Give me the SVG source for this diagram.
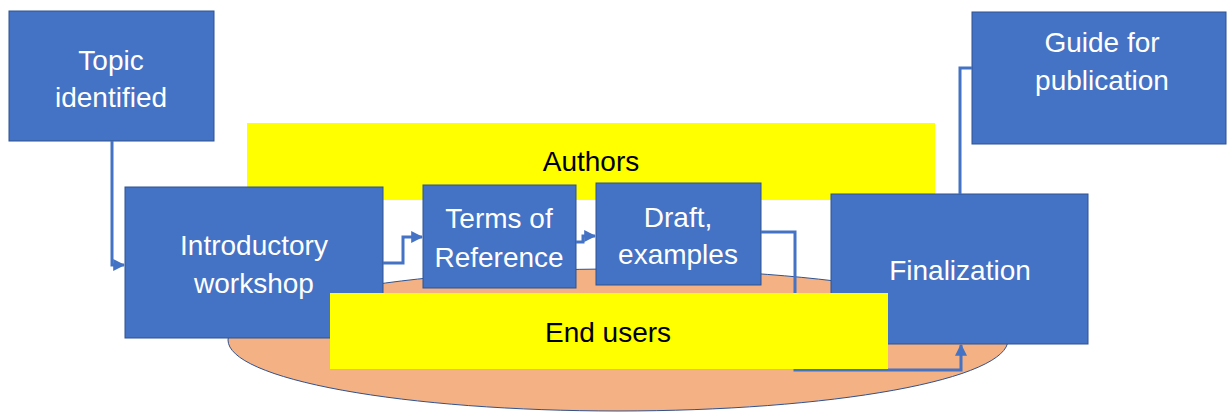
<svg xmlns="http://www.w3.org/2000/svg" width="1228" height="412" viewBox="0 0 1228 412">
<style>
.box{fill:#4472C4;stroke:#2F528F;stroke-width:1}
.band{fill:#FFFF00}
.wt{fill:#FFFFFF;font-family:"Liberation Sans",Arial,sans-serif;font-size:28px;text-anchor:middle}
.bt{fill:#000000;font-family:"Liberation Sans",Arial,sans-serif;font-size:28px;text-anchor:middle}
.con{fill:none;stroke:#4472C4;stroke-width:3}
</style>
<defs>
<marker id="arr" viewBox="0 0 10 10" refX="9" refY="5" markerWidth="4" markerHeight="4" orient="auto" markerUnits="strokeWidth">
<path d="M0,0 L10,5 L0,10 z" fill="#4472C4"/>
</marker>
</defs>
<rect width="1228" height="412" fill="#FFFFFF"/>
<g id="stakeholders">
<ellipse cx="618" cy="340" rx="390" ry="71" fill="#F4B183" stroke="#2F528F" stroke-width="1"/>
<g id="authors">
<rect class="band" x="247" y="123" width="688" height="77"/>
<text class="bt" x="591" y="171">Authors</text>
</g>
</g>
<g id="topic">
<rect class="box" x="9" y="11" width="205" height="130"/>
<text class="wt" x="111" y="70">Topic</text>
<text class="wt" x="111" y="107">identified</text>
</g>
<g id="guide">
<rect class="box" x="972" y="12" width="254" height="132"/>
<text class="wt" x="1102" y="52">Guide for</text>
<text class="wt" x="1102" y="90">publication</text>
</g>
<g id="workshop">
<rect class="box" x="125" y="187" width="258" height="151"/>
<text class="wt" x="254" y="255">Introductory</text>
<text class="wt" x="254" y="293">workshop</text>
</g>
<g id="tor">
<rect class="box" x="423" y="185" width="153" height="103"/>
<text class="wt" x="499" y="228">Terms of</text>
<text class="wt" x="499" y="267">Reference</text>
</g>
<g id="draft">
<rect class="box" x="596" y="183" width="165" height="102"/>
<text class="wt" x="678" y="227">Draft,</text>
<text class="wt" x="678" y="264">examples</text>
</g>
<g id="finalization">
<rect class="box" x="831" y="194" width="257" height="150"/>
<text class="wt" x="960" y="280">Finalization</text>
</g>
<g id="connectors">
<path class="con" d="M112,141 V265 H124" marker-end="url(#arr)"/>
<path class="con" d="M383,263 H403 V237 H422" marker-end="url(#arr)"/>
<path class="con" d="M576,242 H583 V236 H595" marker-end="url(#arr)"/>
<path class="con" d="M761,232 H795 V370 H961 V345" marker-end="url(#arr)"/>
<path class="con" d="M960,194 V68 H972"/>
</g>
<g id="endusers">
<rect class="band" x="330" y="293" width="558" height="76"/>
<text class="bt" x="608" y="342">End users</text>
</g>
</svg>
